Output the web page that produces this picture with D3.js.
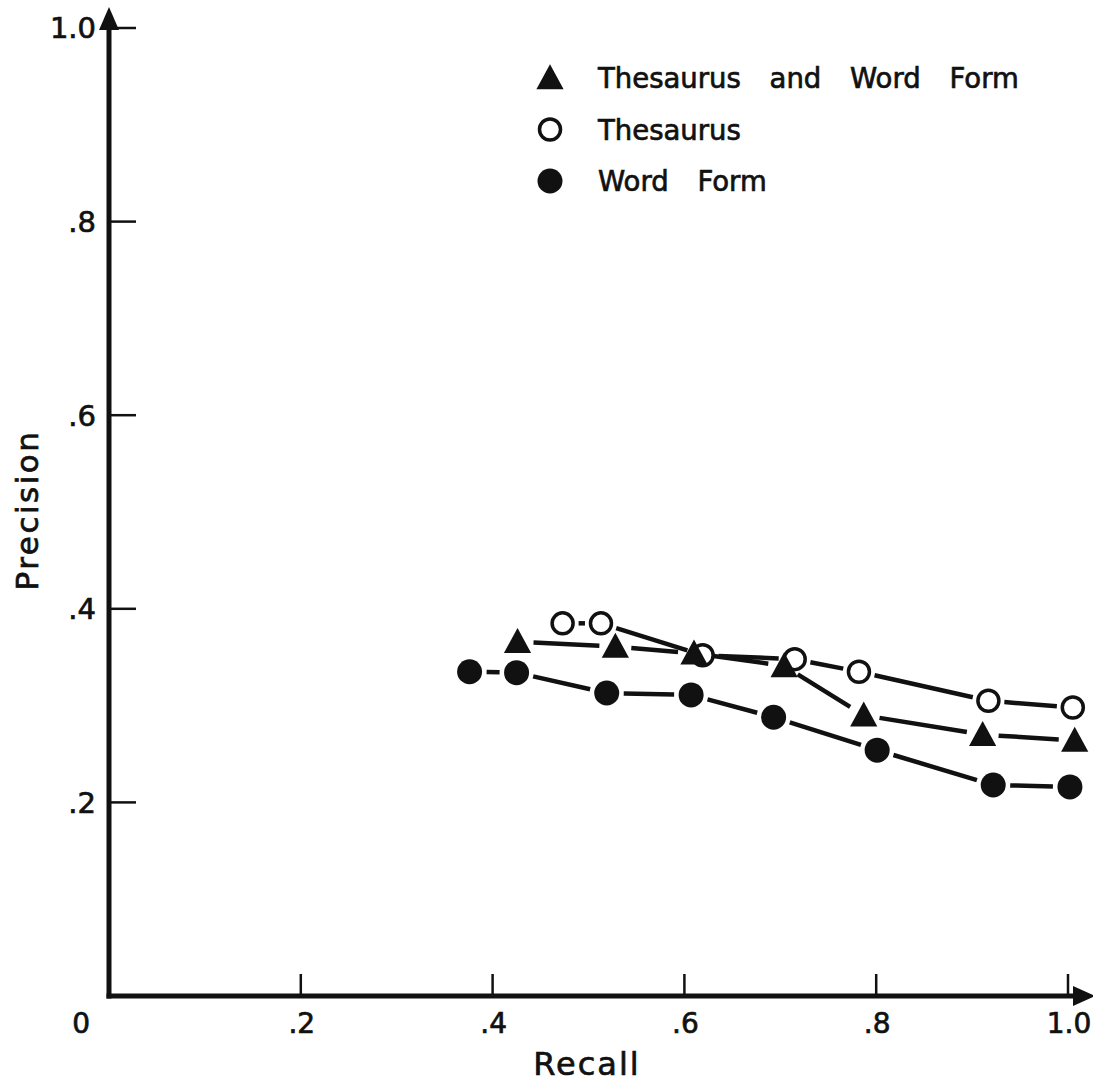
<!DOCTYPE html>
<html>
<head>
<meta charset="utf-8">
<script src="https://cdn.jsdelivr.net/npm/d3@7"></script>
<style>
  html, body { margin: 0; padding: 0; background: #fff; }
  svg { display: block; }
  text { font-family: "DejaVu Sans", "Noto Sans", sans-serif; fill: #111; stroke: #111; stroke-width: 0.7px; }
</style>
</head>
<body>
<svg id="chart" width="1093" height="1085"></svg>
<script>
// data: recall (x) and precision (y) per series
var bothRecall    = [0.426, 0.528, 0.610, 0.704, 0.787, 0.911, 1.007];
var bothPrecision = [0.366, 0.361, 0.354, 0.341, 0.290, 0.270, 0.264];

var thesRecall    = [0.473, 0.513, 0.619, 0.715, 0.782, 0.917, 1.005];
var thesPrecision = [0.385, 0.385, 0.352, 0.348, 0.335, 0.305, 0.298];

var wordRecall    = [0.376, 0.425, 0.519, 0.607, 0.693, 0.801, 0.922, 1.002];
var wordPrecision = [0.335, 0.334, 0.313, 0.311, 0.288, 0.254, 0.218, 0.216];

var xTicks = [0, 0.2, 0.4, 0.6, 0.8, 1.0];
var xTickLabels = ["0", ".2", ".4", ".6", ".8", "1.0"];
var yTicks = [0.2, 0.4, 0.6, 0.8, 1.0];
var yTickLabels = [".2", ".4", ".6", ".8", "1.0"];

var legendNames = ["Thesaurus and Word Form", "Thesaurus", "Word Form"];

var ink = "#111";
var svg = d3.select("#chart");

var x = d3.scaleLinear().domain([0, 1]).range([109, 1068]);
var y = d3.scaleLinear().domain([0, 1]).range([996, 28]);

// triangle a bit taller than equilateral, like the lettering-guide one
var tallTriangle = {
    draw: function(ctx, size) {
        var w = Math.sqrt(size), h = w * 0.92;
        ctx.moveTo(0, -h * 0.55);
        ctx.lineTo(w / 2, h * 0.45);
        ctx.lineTo(-w / 2, h * 0.45);
        ctx.closePath();
    }
};

function zip(xs, ys) {
    return xs.map(function(v, i) { return {x: v, y: ys[i]}; });
}

var series = [
    {name: legendNames[0], pts: zip(bothRecall, bothPrecision), kind: "tri", gap: 16},
    {name: legendNames[1], pts: zip(thesRecall, thesPrecision), kind: "open", gap: 16},
    {name: legendNames[2], pts: zip(wordRecall, wordPrecision), kind: "dot", gap: 17}
];

// ---- axes ----
var axes = svg.append("g");

axes.append("line")
    .attr("x1", x(0)).attr("y1", y(0) + 2.5)
    .attr("x2", x(0)).attr("y2", 24)
    .attr("stroke", ink).attr("stroke-width", 5);
axes.append("path")
    .attr("d", "M" + x(0) + ",7 L" + (x(0) + 10) + ",30 L" + (x(0) - 10) + ",30 Z")
    .attr("fill", ink);

axes.append("line")
    .attr("x1", x(0) - 2.5).attr("y1", y(0))
    .attr("x2", 1078).attr("y2", y(0))
    .attr("stroke", ink).attr("stroke-width", 5);
axes.append("path")
    .attr("d", "M1095," + y(0) + " L1073," + (y(0) - 10) + " L1073," + (y(0) + 10) + " Z")
    .attr("fill", ink);

axes.selectAll(".xtick")
    .data(xTicks.filter(function(d) { return d > 0; }))
    .enter().append("line")
    .attr("class", "xtick")
    .attr("x1", function(d) { return x(d); }).attr("x2", function(d) { return x(d); })
    .attr("y1", y(0)).attr("y2", y(0) - 22)
    .attr("stroke", ink).attr("stroke-width", 2.5);

axes.selectAll(".ytick")
    .data(yTicks)
    .enter().append("line")
    .attr("class", "ytick")
    .attr("y1", function(d) { return y(d); }).attr("y2", function(d) { return y(d); })
    .attr("x1", x(0)).attr("x2", x(0) + 27)
    .attr("stroke", ink).attr("stroke-width", 2.5);

axes.selectAll(".xlab")
    .data(xTicks)
    .enter().append("text")
    .attr("class", "xlab")
    .attr("x", function(d) { return d === 0 ? x(0) - 19 : x(d) + 1; })
    .attr("y", 1033)
    .attr("text-anchor", function(d) { return d === 0 ? "end" : "middle"; })
    .style("font-size", "28px")
    .text(function(d, i) { return xTickLabels[i]; });

axes.selectAll(".ylab")
    .data(yTicks)
    .enter().append("text")
    .attr("class", "ylab")
    .attr("x", x(0) - 13)
    .attr("y", function(d) { return y(d); })
    .attr("dy", "0.36em")
    .attr("text-anchor", "end")
    .style("font-size", "29px")
    .text(function(d, i) { return yTickLabels[i]; });

svg.append("text")
    .attr("x", 587).attr("y", 1075)
    .attr("text-anchor", "middle")
    .style("font-size", "32px")
    .style("letter-spacing", "2px")
    .text("Recall");

svg.append("text")
    .attr("transform", "translate(38,510) rotate(-90)")
    .attr("text-anchor", "middle")
    .style("font-size", "31px")
    .style("letter-spacing", "2.5px")
    .text("Precision");

// ---- connecting lines, broken short of each marker ----
var plot = svg.append("g");

series.forEach(function(s) {
    var segs = d3.pairs(s.pts).map(function(p) {
        var x1 = x(p[0].x), y1 = y(p[0].y), x2 = x(p[1].x), y2 = y(p[1].y);
        var dx = x2 - x1, dy = y2 - y1, len = Math.sqrt(dx * dx + dy * dy);
        var ux = dx / len, uy = dy / len;
        return {x1: x1 + ux * s.gap, y1: y1 + uy * s.gap,
                x2: x2 - ux * s.gap, y2: y2 - uy * s.gap, ok: len > 2 * s.gap};
    }).filter(function(d) { return d.ok; });

    plot.selectAll(null)
        .data(segs)
        .enter().append("line")
        .attr("x1", function(d) { return d.x1; }).attr("y1", function(d) { return d.y1; })
        .attr("x2", function(d) { return d.x2; }).attr("y2", function(d) { return d.y2; })
        .attr("stroke", ink).attr("stroke-width", 4.5);
});

// ---- markers ----
function drawMarker(sel, kind) {
    if (kind === "tri") {
        sel.append("path")
            .attr("d", d3.symbol().type(tallTriangle).size(740))
            .attr("fill", ink);
    } else if (kind === "open") {
        sel.append("circle").attr("r", 10.5)
            .attr("fill", "#fff").attr("stroke", ink).attr("stroke-width", 3.5);
    } else {
        sel.append("circle").attr("r", 12.5).attr("fill", ink);
    }
}

// open circles first so the triangles sit on top of them
[series[1], series[2], series[0]].forEach(function(s) {
    plot.selectAll(null)
        .data(s.pts)
        .enter().append("g")
        .attr("transform", function(d) { return "translate(" + x(d.x) + "," + y(d.y) + ")"; })
        .each(function() { drawMarker(d3.select(this), s.kind); });
});

// ---- legend ----
var legend = svg.append("g").attr("transform", "translate(550,78)");

var rows = legend.selectAll(".row")
    .data(series)
    .enter().append("g")
    .attr("class", "row")
    .attr("transform", function(d, i) { return "translate(0," + (i * 51.5) + ")"; });

rows.each(function(s) { drawMarker(d3.select(this), s.kind); });

rows.append("text")
    .attr("x", 48)
    .attr("y", 10)
    .style("font-size", "27.5px")
    .style("word-spacing", "20px")
    .text(function(d) { return d.name; });
</script>
</body>
</html>
